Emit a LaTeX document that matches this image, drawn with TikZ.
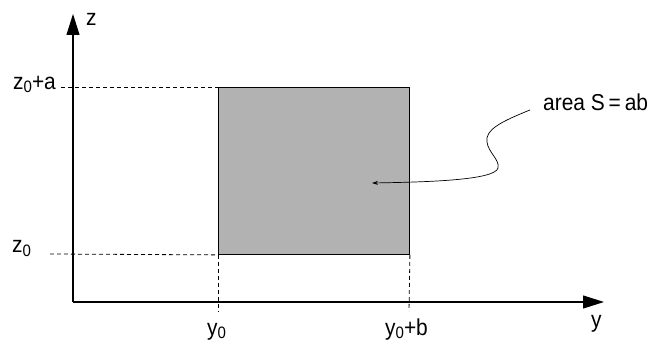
\documentclass[tikz,border=0pt]{standalone}
\usepackage{fontspec}
\setmainfont{Liberation Sans}[FakeStretch=0.91]
\usetikzlibrary{arrows.meta}
\newcommand{\subz}{\raisebox{-3pt}{\fontsize{16.5}{18}\selectfont 0}}
\begin{document}
\begin{tikzpicture}[x=1pt,y=-1pt,
  axis/.style={line width=1.1pt,-{Triangle[length=21pt,width=13pt]}},
  guide/.style={line width=0.8pt,dash pattern=on 4pt off 3pt},
  lbl/.style={inner sep=0pt,font=\fontsize{23}{26}\selectfont}]
\useasboundingbox (0,0) rectangle (652,344);
\coordinate (O) at (73,302);
\coordinate (ztip) at (73,14);
\coordinate (ytip) at (604,302);
\draw[axis] (O) -- (ztip);
\draw[axis] (O) -- (ytip);
\node[draw=black,line width=0.9pt,fill=black!30,minimum width=191pt,minimum height=167pt,inner sep=0pt,anchor=north west] (S) at (218,87) {};
\coordinate (za) at (61,87);
\coordinate (zb) at (50,254);
\coordinate (ya) at (218,311);
\coordinate (yb) at (409,311);
\draw[guide] (za) -- (S.north west);
\draw[guide] (zb) -- (S.south west);
\draw[guide] (S.south west) -- (ya);
\draw[guide] (S.south east) -- (yb);
\node[lbl,anchor=base west] (zl) at (86,26) {z};
\node[lbl,anchor=base west] (zal) at (13,90) {z\subz+a};
\node[lbl,anchor=base west] (z0l) at (12,253) {z\subz};
\node[lbl,anchor=base west] (y0l) at (207,335) {y\subz};
\node[lbl,anchor=base west] (ybl) at (385,335) {y\subz+b};
\node[lbl,anchor=base west] (yl) at (591,327) {y};
\node[lbl,anchor=base west] (al) at (543,111) {area S\,=\,ab};
\coordinate (cstart) at (530,110);
\coordinate (cend) at (372,183);
\draw[line width=0.7pt,-{Stealth[length=6pt,width=4pt]}] (cstart) .. controls (500,122) and (485,130) .. (487,142) .. controls (488,152) and (500,160) .. (498,168) .. controls (495,180) and (430,182) .. (cend);
\end{tikzpicture}
\end{document}
